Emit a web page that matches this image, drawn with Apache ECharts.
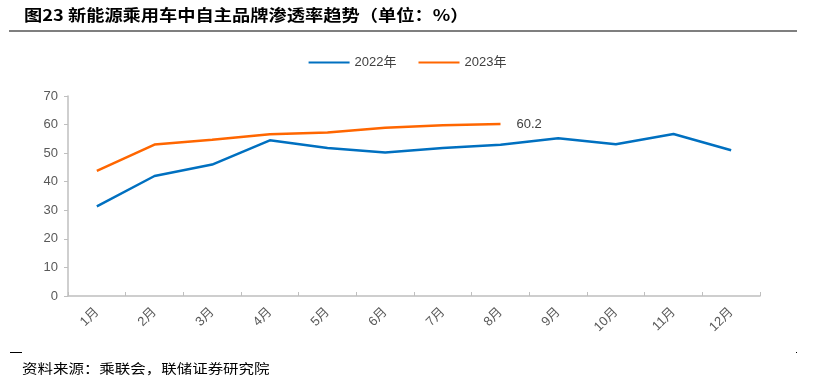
<!DOCTYPE html>
<html><head><meta charset="utf-8">
<script src="https://cdn.jsdelivr.net/npm/echarts@6/dist/echarts.min.js"></script>
<style>html,body{margin:0;padding:0;background:#fff}#c{width:815px;height:379px}</style>
</head><body><div id="c"></div>
<script>
const categories = ['1月','2月','3月','4月','5月','6月','7月','8月','9月','10月','11月','12月'];
const s2022 = [31.4, 42.0, 46.0, 54.5, 51.8, 50.2, 51.8, 52.9, 55.2, 53.1, 56.7, 51.0];
const s2023 = [43.8, 53.0, 54.7, 56.6, 57.2, 58.9, 59.8, 60.2];
const yTicks = [0, 10, 20, 30, 40, 50, 60, 70];
const titleText = '图23 新能源乘用车中自主品牌渗透率趋势（单位：%）';
const sourceText = '资料来源：乘联会，联储证券研究院';

const chart = echarts.init(document.getElementById('c'));
chart.setOption({
  animation: false,
  graphic: [
    {type: 'text', x: 24, y: 15, scaleX: 1.14, scaleY: 1,
     style: {text: titleText, font: 'bold 16px "Noto Sans CJK SC"', fill: '#000', textVerticalAlign: 'middle'}},
    {type: 'line', shape: {x1: 9, y1: 31, x2: 797, y2: 31}, style: {stroke: '#000', lineWidth: 1.2}},
    {type: 'line', shape: {x1: 10, y1: 352.5, x2: 22, y2: 352.5}, style: {stroke: '#000', lineWidth: 1}},
    {type: 'rect', shape: {x: 796, y: 352, width: 1, height: 1}, style: {fill: '#000'}},
    {type: 'text', x: 22, y: 368, scaleX: 1.19, scaleY: 1,
     style: {text: sourceText, font: '13px "Noto Sans CJK SC"', fill: '#000', textVerticalAlign: 'middle'}}
  ],
  legend: {
    top: 51, left: 'center',
    itemWidth: 41, itemHeight: 2, itemGap: 22,
    icon: 'rect',
    textStyle: {fontFamily: '"Liberation Sans", "Noto Sans CJK SC"', fontSize: 13, color: '#404040'},
    data: ['2022年', '2023年']
  },
  grid: {left: 68, right: 55, top: 96, bottom: 83},
  xAxis: {
    type: 'category', data: categories, boundaryGap: true,
    axisLine: {lineStyle: {color: '#bfbfbf', width: 1.5}},
    axisTick: {show: true, inside: true, length: 4, lineStyle: {color: '#bfbfbf'}},
    axisLabel: {rotate: 45, interval: 0, margin: 14, color: '#595959', fontSize: 13, fontFamily: '"Liberation Sans", "Noto Sans CJK SC"'}
  },
  yAxis: {
    type: 'value', min: yTicks[0], max: yTicks[yTicks.length - 1], interval: 10,
    splitLine: {show: false},
    axisLine: {show: true, lineStyle: {color: '#bfbfbf', width: 1.5}},
    axisTick: {show: true, length: 4, lineStyle: {color: '#bfbfbf'}},
    axisLabel: {color: '#595959', fontSize: 13, margin: 10, fontFamily: '"Liberation Sans"'}
  },
  series: [
    {name: '2022年', type: 'line', data: s2022, symbol: 'none', lineStyle: {color: '#0070c0', width: 2.5}, itemStyle: {color: '#0070c0'}},
    {name: '2023年', type: 'line', data: s2023, symbol: 'none', lineStyle: {color: '#ff6600', width: 2.5}, itemStyle: {color: '#ff6600'},
     endLabel: {show: true, formatter: p => p.value.toFixed(1), distance: 16, color: '#404040', fontSize: 13, fontFamily: '"Liberation Sans"'}}
  ]
});
</script></body></html>
